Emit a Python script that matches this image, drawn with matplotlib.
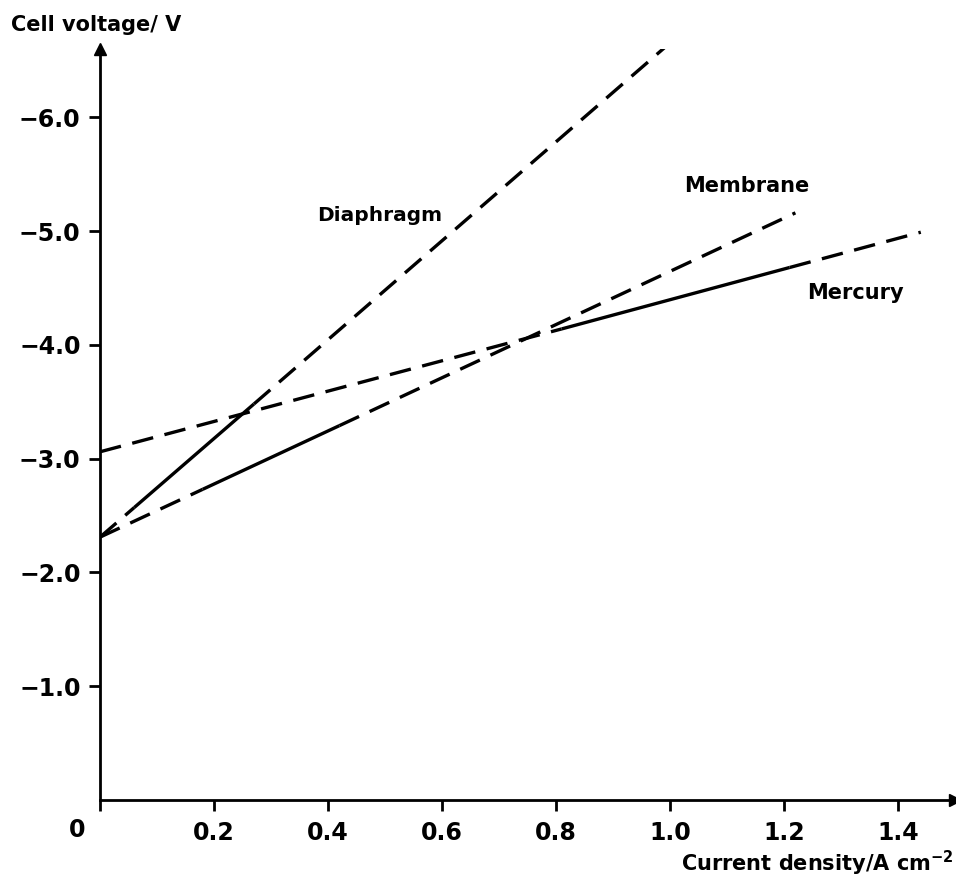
import matplotlib.pyplot as plt

# Cell voltage (shown as negative) vs current density
# each line: break points, and the style of each piece between them
diaphragm_x = [0.0, 0.06, 0.27, 0.99]
diaphragm_y = [2.31, 2.57, 3.48, 6.61]
diaphragm_style = ['dashed', 'solid', 'dashed']

membrane_x = [0.0, 0.18, 0.42, 1.22]
membrane_y = [2.31, 2.73, 3.29, 5.16]
membrane_style = ['dashed', 'solid', 'dashed']

mercury_x = [0.0, 0.81, 1.21, 1.44]
mercury_y = [3.06, 4.14, 4.68, 4.99]
mercury_style = ['dashed', 'solid', 'dashed']

x_ticks = [0.0, 0.2, 0.4, 0.6, 0.8, 1.0, 1.2, 1.4]
x_labels = ['', '0.2', '0.4', '0.6', '0.8', '1.0', '1.2', '1.4']
y_ticks = [1.0, 2.0, 3.0, 4.0, 5.0, 6.0]
y_labels = ['\u22121.0', '\u22122.0', '\u22123.0', '\u22124.0', '\u22125.0', '\u22126.0']

plt.rcParams['font.family'] = ['DejaVu Sans']
plt.rcParams['font.weight'] = 'bold'

fig = plt.figure(figsize=(9.56, 8.77), dpi=100)
ax = fig.add_axes([100 / 956, 77 / 877, 855 / 956, 751 / 877])

dash = (0, (6.5, 3.5))
lw = 2.4


def draw(xs, ys, styles):
    for i, st in enumerate(styles):
        ls = '-' if st == 'solid' else dash
        ax.plot(xs[i:i + 2], ys[i:i + 2], color='black', lw=lw,
                linestyle=ls, solid_capstyle='butt', dash_capstyle='butt')


draw(diaphragm_x, diaphragm_y, diaphragm_style)
draw(membrane_x, membrane_y, membrane_style)
draw(mercury_x, mercury_y, mercury_style)

ax.set_xlim(0, 1.5)
ax.set_ylim(0, 6.6)
for s in ['top', 'right']:
    ax.spines[s].set_visible(False)
for s in ['left', 'bottom']:
    ax.spines[s].set_linewidth(2)

# arrow heads on the axes
ax.plot(1, 0, '>k', ms=9, transform=ax.transAxes, clip_on=False)
ax.plot(0, 1, '^k', ms=9, transform=ax.transAxes, clip_on=False)

ax.set_xticks(x_ticks)
ax.set_xticklabels(x_labels)
ax.set_yticks(y_ticks)
ax.set_yticklabels(y_labels)
ax.tick_params(axis='both', direction='out', length=8, width=2,
               labelsize=17, pad=6)
ax.tick_params(axis='x', pad=7)
ax.text(-0.04, -0.04, '0', transform=ax.get_xaxis_transform(),
        ha='center', va='center', fontsize=17, fontweight='bold')

ax.text(0.49, 5.14, 'Diaphragm', fontsize=14.5, fontweight='bold',
        ha='center', va='center')
ax.text(1.135, 5.40, 'Membrane', fontsize=15, fontweight='bold',
        ha='center', va='center')
ax.text(1.24, 4.46, 'Mercury', fontsize=15, fontweight='bold',
        ha='left', va='center')

fig.text(0.012, 0.972, 'Cell voltage/ V', fontsize=15, fontweight='bold',
         ha='left', va='center')
fig.text(0.998, 0.015, 'Current density/A cm$^{\\mathbf{-2}}$', fontsize=15,
         fontweight='bold', ha='right', va='center')

fig.savefig('out.png', dpi=100)
